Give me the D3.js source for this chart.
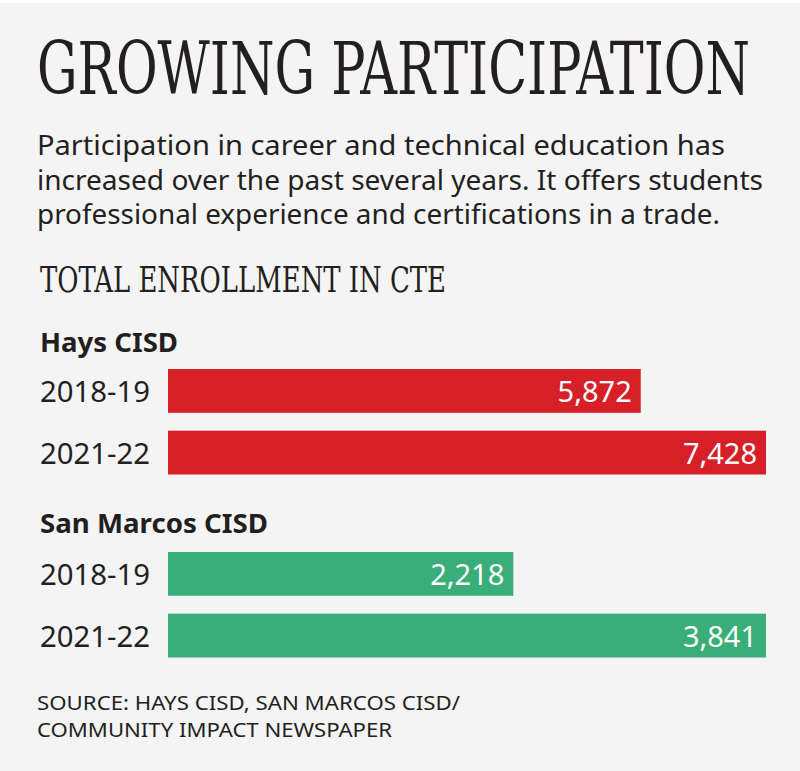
<!DOCTYPE html>
<html><head><meta charset="utf-8">
<script src="https://cdn.jsdelivr.net/npm/d3@7"></script>
<style>
html,body{margin:0;padding:0;background:#fff;}
svg{display:block;}
</style></head>
<body>
<script>
const title = "GROWING PARTICIPATION";
const subtitleLines = [
  "Participation in career and technical education has",
  "increased over the past several years. It offers students",
  "professional experience and certifications in a trade."
];
const chartTitle = "TOTAL ENROLLMENT IN CTE";
const groups = ["Hays CISD", "San Marcos CISD"];
const years = ["2018-19", "2021-22"];
const haysValues = [5872, 7428];
const sanMarcosValues = [2218, 3841];
const sourceLines = ["SOURCE: HAYS CISD, SAN MARCOS CISD/", "COMMUNITY IMPACT NEWSPAPER"];

const W = 800, H = 771;
const svg = d3.select("body").append("svg").attr("width", W).attr("height", H);
svg.append("rect").attr("x",0).attr("y",3).attr("width",W).attr("height",H-3).attr("fill","#f4f4f4");

const ink = "#231f20";
const slab = "'DejaVu Serif Condensed','DejaVu Serif',serif";
const sans = "'Noto Sans','Open Sans',sans-serif";

svg.append("text").attr("transform","translate(37,94) scale(1,1.5)").text(title)
  .attr("font-family",slab).attr("font-size",48).attr("fill",ink)
  .attr("textLength",713).attr("lengthAdjust","spacingAndGlyphs");

const subW = [688, 726, 683];
subtitleLines.forEach((l,i)=>{
  svg.append("text").attr("x",37).attr("y",155+i*34.5).text(l)
    .attr("font-family",sans).attr("font-size",27.5).attr("fill",ink)
    .attr("textLength",subW[i]).attr("lengthAdjust","spacingAndGlyphs");
});

svg.append("text").attr("transform","translate(40,292) scale(1,1.4)").text(chartTitle)
  .attr("font-family",slab).attr("font-size",25).attr("fill",ink)
  .attr("textLength",406).attr("lengthAdjust","spacingAndGlyphs");

const x0 = 168, x1 = 766;
const datasets = [
  {name: groups[0], values: haysValues, color: "#d71f27", top: 352, barTop: 369, w: 138},
  {name: groups[1], values: sanMarcosValues, color: "#3aae79", top: 533, barTop: 552, w: 228}
];
const fmt = d3.format(",");

datasets.forEach(g=>{
  const x = d3.scaleLinear().domain([0, d3.max(g.values)]).range([x0, x1]);
  const y = d3.scaleBand().domain(years).range([g.barTop, g.barTop+105.5]).paddingInner(0.29).paddingOuter(0);
  svg.append("text").attr("x",40).attr("y",g.top).text(g.name)
    .attr("font-family",sans).attr("font-weight",700).attr("font-size",26).attr("fill",ink)
    .attr("textLength",g.w).attr("lengthAdjust","spacingAndGlyphs");
  const grp = svg.append("g");
  grp.selectAll("rect").data(g.values).join("rect")
    .attr("x",x0).attr("y",(d,i)=>y(years[i]))
    .attr("width",d=>x(d)-x0).attr("height",y.bandwidth())
    .attr("fill",g.color);
  grp.selectAll("text.val").data(g.values).join("text").attr("class","val")
    .attr("x",d=>x(d)-9).attr("y",(d,i)=>y(years[i])+y.bandwidth()/2+11)
    .attr("text-anchor","end").text(d=>fmt(d))
    .attr("font-family",sans).attr("font-size",29).attr("fill","#fff");
  grp.selectAll("text.yr").data(years).join("text").attr("class","yr")
    .attr("x",40).attr("y",d=>y(d)+y.bandwidth()/2+11).text(d=>d)
    .attr("font-family",sans).attr("font-size",29).attr("fill",ink)
    .attr("textLength",110).attr("lengthAdjust","spacingAndGlyphs");
});

sourceLines.forEach((l,i)=>{
  svg.append("text").attr("x",37).attr("y",710+i*27).text(l)
    .attr("font-family",sans).attr("font-size",20).attr("fill",ink)
    .attr("textLength",i===0?423:355).attr("lengthAdjust","spacingAndGlyphs");
});
</script>
</body></html>
